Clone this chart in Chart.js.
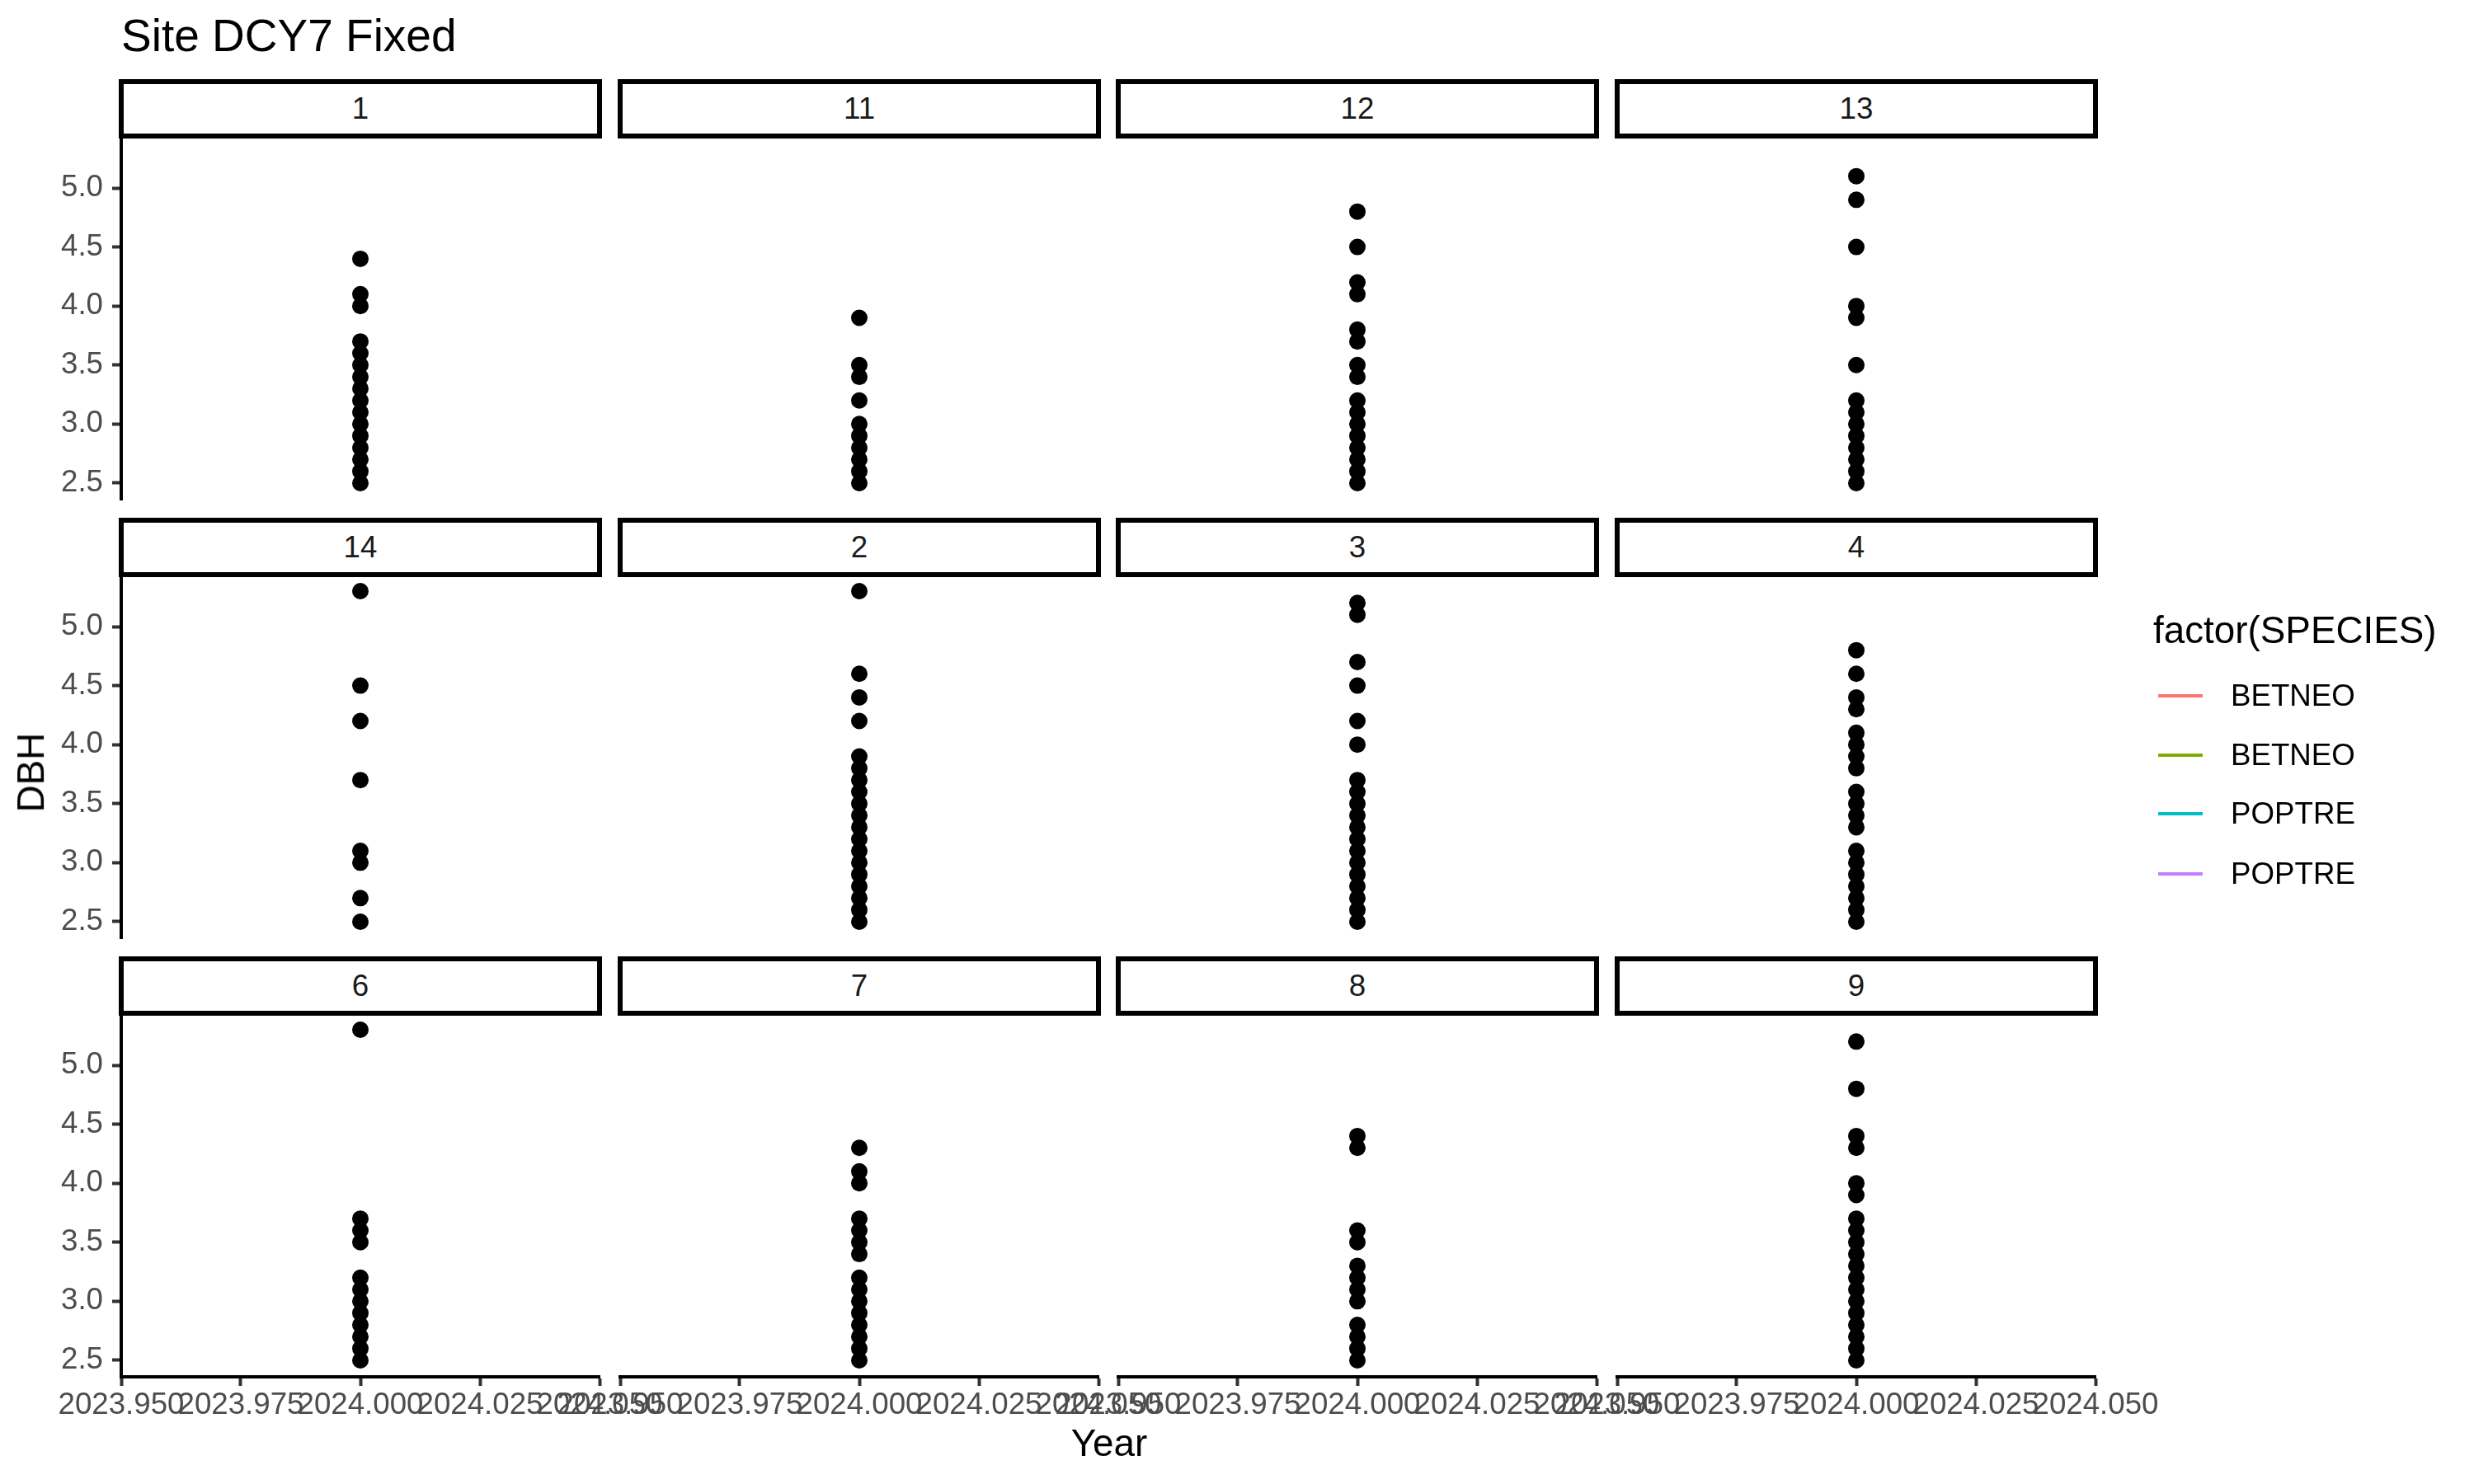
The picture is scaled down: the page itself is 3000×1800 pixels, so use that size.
<!DOCTYPE html>
<html><head><meta charset="utf-8">
<script src="https://cdn.jsdelivr.net/npm/chart.js@4.4.1/dist/chart.umd.min.js"></script>
<style>
html,body{margin:0;padding:0;background:#fff;}
#root{position:relative;width:3000px;height:1800px;overflow:hidden;background:#fff;font-family:"Liberation Sans",Arial,sans-serif;}
.abs{position:absolute;white-space:nowrap;line-height:1;}
canvas{position:absolute;}
.strip{position:absolute;box-sizing:border-box;border:6px solid #000;background:#fff;display:flex;align-items:center;justify-content:center;font-size:36.7px;line-height:1;color:#1a1a1a;}
.key{position:absolute;height:4px;}
</style></head><body><div id="root"></div>
<script>
// ---------- data ----------
const chartTitle = 'Site DCY7 Fixed';
const xAxisTitle = 'Year';
const yAxisTitle = 'DBH';
const legendTitle = 'factor(SPECIES)';
const panelLabels = ['1','11','12','13','14','2','3','4','6','7','8','9'];
const yearValue = 2024;
const dbh_1  = [2.5,2.6,2.7,2.8,2.9,3.0,3.1,3.2,3.3,3.4,3.5,3.6,3.7,4.0,4.1,4.4];
const dbh_11 = [2.5,2.6,2.7,2.8,2.9,3.0,3.2,3.4,3.5,3.9];
const dbh_12 = [2.5,2.6,2.7,2.8,2.9,3.0,3.1,3.2,3.4,3.5,3.7,3.8,4.1,4.2,4.5,4.8];
const dbh_13 = [2.5,2.6,2.7,2.8,2.9,3.0,3.1,3.2,3.5,3.9,4.0,4.5,4.9,5.1];
const dbh_14 = [2.5,2.7,3.0,3.1,3.7,4.2,4.5,5.3];
const dbh_2  = [2.5,2.6,2.7,2.8,2.9,3.0,3.1,3.2,3.3,3.4,3.5,3.6,3.7,3.8,3.9,4.2,4.4,4.6,5.3];
const dbh_3  = [2.5,2.6,2.7,2.8,2.9,3.0,3.1,3.2,3.3,3.4,3.5,3.6,3.7,4.0,4.2,4.5,4.7,5.1,5.2];
const dbh_4  = [2.5,2.6,2.7,2.8,2.9,3.0,3.1,3.3,3.4,3.5,3.6,3.8,3.9,4.0,4.1,4.3,4.4,4.6,4.8];
const dbh_6  = [2.5,2.6,2.7,2.8,2.9,3.0,3.1,3.2,3.5,3.6,3.7,5.3];
const dbh_7  = [2.5,2.6,2.7,2.8,2.9,3.0,3.1,3.2,3.4,3.5,3.6,3.7,4.0,4.1,4.3];
const dbh_8  = [2.5,2.6,2.7,2.8,3.0,3.1,3.2,3.3,3.5,3.6,4.3,4.4];
const dbh_9  = [2.5,2.6,2.7,2.8,2.9,3.0,3.1,3.2,3.3,3.4,3.5,3.6,3.7,3.9,4.0,4.3,4.4,4.8,5.2];
const panelValues = [dbh_1,dbh_11,dbh_12,dbh_13,dbh_14,dbh_2,dbh_3,dbh_4,dbh_6,dbh_7,dbh_8,dbh_9];
const xTickValues = [2023.95, 2023.975, 2024.0, 2024.025, 2024.05];
const yTickValues = [2.5, 3.0, 3.5, 4.0, 4.5, 5.0];
const xRange = [2023.95, 2024.05];
const yRange = [2.36, 5.44];
const speciesLabels = ['BETNEO','BETNEO','POPTRE','POPTRE'];
const speciesColors = ['#F8766D','#7CAE00','#00BFC4','#C77CFF'];

// ---------- layout ----------
const FONT = '"Liberation Sans", Arial, sans-serif';
const colLeft = [147, 752, 1356, 1961];
const panelW = 580;
const panelTop = [165, 697, 1229];
const panelH = 441;
const stripH = 66, stripB = 6;
const PADL = 120, PADR = 110, PADT = 45, PADB = 80;
const root = document.getElementById('root');

function addText(txt, x, y, size, color, anchor, rotate) {
  const d = document.createElement('div');
  d.className = 'abs';
  d.textContent = txt;
  d.style.left = x + 'px'; d.style.top = y + 'px';
  d.style.fontSize = size + 'px'; d.style.color = color;
  const tx = anchor === 'left' ? '0' : '-50%';
  d.style.transform = `translate(${tx},-50%)` + (rotate ? ` rotate(${rotate}deg)` : '');
  root.appendChild(d);
  return d;
}

Chart.defaults.font.family = FONT;

panelValues.forEach((vals, i) => {
  const r = Math.floor(i / 4), c = i % 4;
  const cv = document.createElement('canvas');
  const w = panelW + PADL + PADR, h = panelH + PADT + PADB;
  cv.width = w; cv.height = h;
  cv.style.width = w + 'px'; cv.style.height = h + 'px';
  cv.style.left = (colLeft[c] - PADL) + 'px';
  cv.style.top = (panelTop[r] - PADT) + 'px';
  root.appendChild(cv);
  const showY = c === 0, showX = r === 2;
  const xScale = {
    type: 'linear', min: xRange[0], max: xRange[1], display: showX,
    afterBuildTicks: s => { s.ticks = xTickValues.map(v => ({value: v})); },
    ticks: { callback: v => Number(v).toFixed(3), autoSkip: false, maxRotation: 0, minRotation: 0,
             padding: 2, color: '#4D4D4D', font: { size: 36.7, family: FONT } },
    grid: { display: true, drawOnChartArea: false, drawTicks: true, tickLength: 11, tickWidth: 4, tickColor: '#333333' },
    border: { display: true, color: '#000000', width: 4 }
  };
  if (showX) xScale.afterFit = s => { s.height = PADB; };
  const yScale = {
    type: 'linear', min: yRange[0], max: yRange[1], display: showY,
    afterBuildTicks: s => { s.ticks = yTickValues.map(v => ({value: v})); },
    ticks: { callback: v => Number(v).toFixed(1), autoSkip: false, padding: 11,
             color: '#4D4D4D', font: { size: 36.7, family: FONT } },
    grid: { display: true, drawOnChartArea: false, drawTicks: true, tickLength: 11, tickWidth: 4, tickColor: '#333333' },
    border: { display: true, color: '#000000', width: 4 }
  };
  if (showY) yScale.afterFit = s => { s.width = PADL; };
  new Chart(cv, {
    type: 'scatter',
    data: { datasets: [{
      label: panelLabels[i],
      data: vals.map(v => ({ x: yearValue, y: v })),
      backgroundColor: '#000000', borderColor: '#000000', borderWidth: 0,
      pointRadius: 10, pointHoverRadius: 10, clip: false
    }]},
    options: {
      responsive: false, animation: false, devicePixelRatio: 1,
      layout: { padding: { left: showY ? 0 : PADL, right: PADR, top: PADT, bottom: showX ? 0 : PADB } },
      plugins: { legend: { display: false }, tooltip: { enabled: false }, title: { display: false } },
      scales: { x: xScale, y: yScale }
    }
  });
  // strip
  const s = document.createElement('div');
  s.className = 'strip';
  s.style.left = (colLeft[c] - stripB / 2) + 'px';
  s.style.top = (panelTop[r] - stripH - stripB / 2) + 'px';
  s.style.width = (panelW + stripB) + 'px';
  s.style.height = (stripH + stripB) + 'px';
  s.textContent = panelLabels[i];
  root.appendChild(s);
});

// titles
addText(chartTitle, 147, 43, 55, '#000', 'left');
addText(xAxisTitle, 1345, 1751, 45.8, '#000', 'center');
addText(yAxisTitle, 38, 937, 45.8, '#000', 'center', -90);

// legend
addText(legendTitle, 2611, 765, 45.8, '#000', 'left');
const keyY = [844, 916, 987, 1060];
speciesLabels.forEach((lab, k) => {
  const ln = document.createElement('div');
  ln.className = 'key';
  ln.style.left = '2617px'; ln.style.width = '54px';
  ln.style.top = (keyY[k] - 2) + 'px';
  ln.style.background = speciesColors[k];
  root.appendChild(ln);
  addText(lab, 2705, keyY[k], 36.7, '#000', 'left');
});
</script></body></html>
